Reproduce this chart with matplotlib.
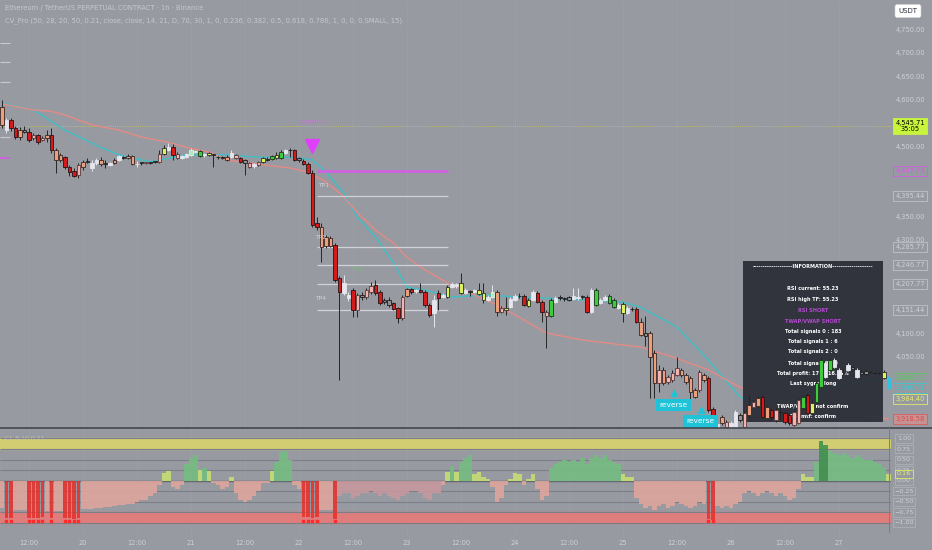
import numpy as np
from matplotlib import pyplot as plt
from matplotlib import transforms
from matplotlib.lines import Line2D
from matplotlib.patches import Rectangle

# ETHUSDT perp, 1h candles, first candle 19th 06:00.
opens = [
  4547, 4557, 4557, 4540, 4536, 4536, 4532, 4525, 4525, 4514,
  4519, 4525, 4493, 4483, 4478, 4457, 4449, 4440, 4457, 4468,
  4466, 4466, 4472, 4466, 4466, 4466, 4472, 4476, 4476, 4480,
  4463, 4466, 4466, 4466, 4468, 4468, 4485, 4493, 4499, 4485,
  4476, 4478, 4483, 4489, 4480, 4483, 4483, 4483, 4478, 4478,
  4478, 4478, 4483, 4476, 4472, 4466, 4459, 4461, 4468, 4472,
  4474, 4476, 4476, 4487, 4493, 4493, 4476, 4470, 4463, 4444,
  4337, 4328, 4307, 4305, 4290, 4219, 4187, 4177, 4194, 4151,
  4183, 4179, 4190, 4204, 4190, 4172, 4172, 4166, 4155, 4134,
  4181, 4196, 4194, 4194, 4190, 4162, 4145, 4187, 4179, 4179,
  4200, 4202, 4187, 4194, 4190, 4190, 4185, 4187, 4172, 4179,
  4190, 4147, 4151, 4157, 4172, 4181, 4181, 4160, 4172, 4187,
  4168, 4138, 4138, 4168, 4177, 4175, 4172, 4175, 4179, 4179,
  4179, 4147, 4162, 4166, 4172, 4181, 4172, 4155, 4164, 4145,
  4153, 4153, 4125, 4102, 4102, 4059, 3995, 4023, 3997, 4001,
  4012, 4023, 4012, 4006, 3965, 3980, 4012, 4006, 3939, 3895,
  3922, 3901, 3910, 3901, 3927, 3901, 3927, 3944, 3963, 3965,
  3944, 3937, 3916, 3933, 3931, 3927, 3905, 3910, 3942, 3969,
  3931, 3954, 3986, 4008, 4023, 4029, 4023, 4021, 4023, 4029,
  4008, 4018, 4021, 4018, 4016, 4016, 4006, 4006]
highs = [
  4600, 4562, 4562, 4544, 4542, 4544, 4540, 4529, 4527, 4523,
  4536, 4540, 4497, 4487, 4480, 4461, 4455, 4466, 4472, 4476,
  4472, 4476, 4478, 4472, 4468, 4476, 4483, 4480, 4485, 4483,
  4470, 4468, 4468, 4468, 4470, 4493, 4504, 4508, 4506, 4489,
  4483, 4487, 4497, 4493, 4493, 4487, 4489, 4485, 4480, 4480,
  4483, 4493, 4485, 4478, 4474, 4468, 4466, 4470, 4478, 4478,
  4483, 4489, 4493, 4495, 4497, 4495, 4478, 4474, 4468, 4451,
  4350, 4337, 4311, 4309, 4294, 4224, 4226, 4190, 4198, 4187,
  4190, 4198, 4211, 4215, 4194, 4177, 4179, 4168, 4157, 4183,
  4198, 4198, 4196, 4209, 4194, 4166, 4183, 4194, 4187, 4204,
  4211, 4209, 4230, 4198, 4194, 4196, 4209, 4209, 4183, 4204,
  4194, 4160, 4179, 4179, 4185, 4187, 4185, 4177, 4194, 4192,
  4172, 4151, 4177, 4181, 4183, 4179, 4181, 4198, 4198, 4183,
  4183, 4198, 4198, 4177, 4183, 4185, 4177, 4166, 4168, 4160,
  4157, 4157, 4134, 4138, 4106, 4066, 4033, 4029, 4012, 4023,
  4051, 4027, 4016, 4010, 3984, 4023, 4016, 4010, 3944, 3916,
  3927, 3916, 3914, 3937, 3931, 3935, 3969, 3959, 3967, 3969,
  3948, 3942, 3942, 3948, 3935, 3931, 3937, 3963, 3969, 3974,
  3959, 4001, 4051, 4042, 4048, 4048, 4027, 4025, 4038, 4031,
  4027, 4023, 4025, 4023, 4018, 4018, 4023, 4010]
lows = [
  4540, 4529, 4534, 4517, 4514, 4529, 4510, 4514, 4506, 4512,
  4510, 4487, 4444, 4468, 4453, 4438, 4436, 4434, 4451, 4466,
  4449, 4461, 4459, 4455, 4459, 4463, 4470, 4474, 4474, 4461,
  4457, 4461, 4463, 4463, 4466, 4466, 4483, 4491, 4472, 4474,
  4474, 4476, 4480, 4487, 4478, 4478, 4480, 4457, 4474, 4474,
  4470, 4476, 4474, 4466, 4440, 4455, 4455, 4459, 4466, 4470,
  4472, 4474, 4474, 4485, 4478, 4470, 4468, 4461, 4442, 4328,
  4322, 4254, 4284, 4286, 4211, 4001, 4183, 4170, 4136, 4136,
  4172, 4175, 4185, 4183, 4162, 4164, 4157, 4151, 4123, 4130,
  4179, 4185, 4187, 4187, 4157, 4136, 4115, 4151, 4177, 4177,
  4198, 4198, 4185, 4185, 4181, 4187, 4183, 4166, 4170, 4177,
  4138, 4145, 4140, 4155, 4170, 4177, 4160, 4157, 4170, 4166,
  4125, 4070, 4136, 4166, 4172, 4170, 4170, 4172, 4172, 4175,
  4145, 4145, 4160, 4164, 4170, 4164, 4155, 4153, 4125, 4143,
  4149, 4123, 4096, 4075, 3963, 3963, 3976, 3991, 3993, 3997,
  4010, 4008, 3993, 3948, 3963, 3976, 3997, 3933, 3893, 3891,
  3905, 3897, 3895, 3899, 3912, 3899, 3920, 3942, 3944, 3920,
  3918, 3916, 3912, 3916, 3908, 3905, 3903, 3908, 3937, 3927,
  3929, 3952, 3984, 4006, 4021, 4027, 4004, 4014, 4021, 4023,
  4006, 4012, 4010, 4016, 4014, 4014, 4004, 3982]
closes = [
  4585, 4536, 4540, 4521, 4521, 4532, 4514, 4519, 4510, 4519,
  4525, 4493, 4472, 4472, 4457, 4446, 4438, 4461, 4468, 4470,
  4455, 4472, 4463, 4463, 4461, 4472, 4480, 4478, 4480, 4463,
  4463, 4466, 4466, 4466, 4468, 4485, 4497, 4499, 4483, 4476,
  4480, 4485, 4493, 4491, 4491, 4485, 4487, 4483, 4478, 4476,
  4472, 4487, 4476, 4468, 4466, 4457, 4463, 4468, 4476, 4474,
  4480, 4483, 4489, 4493, 4493, 4472, 4472, 4463, 4444, 4333,
  4328, 4286, 4288, 4288, 4215, 4190, 4209, 4183, 4151, 4183,
  4179, 4194, 4202, 4187, 4166, 4168, 4162, 4153, 4134, 4179,
  4196, 4190, 4192, 4190, 4162, 4140, 4172, 4177, 4183, 4200,
  4207, 4207, 4209, 4187, 4190, 4194, 4194, 4172, 4179, 4190,
  4147, 4155, 4155, 4175, 4181, 4181, 4162, 4172, 4190, 4168,
  4147, 4147, 4172, 4177, 4179, 4175, 4179, 4181, 4177, 4181,
  4147, 4194, 4194, 4172, 4179, 4166, 4157, 4162, 4145, 4155,
  4153, 4125, 4098, 4096, 4051, 3995, 4023, 3995, 4008, 4016,
  4027, 4012, 3997, 3976, 3980, 4018, 4001, 3937, 3895, 3908,
  3910, 3912, 3899, 3933, 3916, 3931, 3948, 3954, 3946, 3922,
  3920, 3922, 3937, 3933, 3912, 3910, 3933, 3959, 3965, 3931,
  3952, 3995, 4044, 4038, 4044, 4044, 4006, 4018, 4033, 4025,
  4023, 4014, 4014, 4018, 4016, 4016, 4018, 3984.40]
# indicator candle colouring (one letter per candle)
candleKinds = ('swrrskrprp' 'srssrrrpsk' 'wwskwswkss' 'wkpkkpywrp' 'wwlwgwykkk'
               'swprkpwpyk' 'gygwkrkrrr' 'rsssrrwwrp' 'kpprrkkrrp' 'srwrrrwrwy'
               'wwywkwyywl' 'spywwkrywr' 'rpgwkkkwwk' 'rwgwwggwyw' 'krsksspspp'
               'psssspsrrw' 'spwwkpspsr' 'srpkrrppgr' 'yggwgwwkwk' 'wkkkkkyc')

# moving average lines (candle index, price)
cyanIdx = [0, 7, 14, 22, 26, 33, 41, 50, 57, 64, 69, 72, 76, 79, 83, 87, 90, 94,
           100, 107, 120, 131, 138, 142, 150, 157, 164, 168, 177, 186, 197]
cyanVals = [4594, 4579, 4536, 4499, 4483, 4468, 4483, 4483, 4478, 4478, 4472, 4446,
            4401, 4350, 4307, 4252, 4200, 4194, 4179, 4183, 4177, 4172, 4168, 4157,
            4115, 4044, 3965, 3954, 3959, 3991, 4006]
salmonIdx = [0, 7, 11, 14, 20, 26, 31, 37, 41, 46, 50, 57, 64, 68, 72, 76, 79, 83,
             87, 90, 94, 99, 110, 114, 121, 129, 142, 149, 157, 164, 177, 197]
salmonVals = [4592, 4579, 4576, 4568, 4547, 4536, 4521, 4510, 4499, 4489, 4472, 4463,
              4455, 4446, 4425, 4393, 4359, 4322, 4294, 4264, 4237, 4209, 4162, 4141,
              4102, 4087, 4072, 4051, 4023, 3986, 3948, 3918]

# take-profit levels of the short signal
shortLevel = 4447.78
tpLevels = [4395.44, 4285.77, 4246.77, 4207.77, 4151.44]
markLevel = 4545.71
leftLevels = [4722, 4682, 4639, 4521]
leftMagenta = 4476

# lower pane oscillator
histVals = [
  -0.65, -0.88, -0.88, -0.7, -0.7, -0.7, -0.88, -0.88, -0.88, -0.86,
  -0.72, -0.88, -0.72, -0.72, -0.88, -0.88, -0.9, -0.88, -0.68, -0.66,
  -0.66, -0.65, -0.64, -0.63, -0.62, -0.6, -0.58, -0.57, -0.55, -0.55,
  -0.5, -0.45, -0.45, -0.35, -0.3, -0.1, 0.18, 0.22, -0.15, -0.2,
  -0.1, 0.4, 0.55, 0.6, 0.25, 0.3, 0.22, -0.05, -0.1, -0.2,
  -0.15, 0.08, -0.3, -0.45, -0.5, -0.45, -0.35, -0.25, -0.05, -0.05,
  0.22, 0.45, 0.68, 0.7, 0.5, -0.1, -0.2, -0.86, -0.86, -0.88,
  -0.86, -0.7, -0.7, -0.7, -0.9, -0.35, -0.3, -0.3, -0.4, -0.35,
  -0.3, -0.3, -0.25, -0.3, -0.35, -0.3, -0.35, -0.4, -0.45, -0.35,
  -0.3, -0.25, -0.25, -0.3, -0.4, -0.45, -0.3, -0.3, -0.1, 0.2,
  0.35, 0.2, 0.45, 0.55, 0.6, 0.15, 0.2, 0.1, 0.05, -0.15,
  -0.5, -0.4, -0.1, 0.05, 0.18, 0.15, -0.1, 0.05, 0.15, -0.2,
  -0.45, -0.35, 0.3, 0.4, 0.45, 0.5, 0.45, 0.5, 0.45, 0.55,
  0.4, 0.55, 0.6, 0.55, 0.6, 0.5, 0.45, 0.4, 0.15, 0.1,
  0.1, -0.4, -0.55, -0.65, -0.6, -0.7, -0.6, -0.55, -0.65, -0.6,
  -0.5, -0.55, -0.6, -0.65, -0.6, -0.5, -0.55, -0.9, -0.92, -0.6,
  -0.65, -0.6, -0.65, -0.55, -0.5, -0.3, -0.25, -0.3, -0.35, -0.3,
  -0.25, -0.3, -0.35, -0.3, -0.35, -0.45, -0.4, -0.2, 0.15, 0.1,
  0.08, 0.45, 0.95, 0.85, 0.7, 0.65, 0.6, 0.65, 0.6, 0.55,
  0.6, 0.55, 0.5, 0.5, 0.45, 0.4, 0.3, 0.16]
histKinds = ('SRRSSSRRRR' 'SRSSRRRRSS' 'SSSSSSSSSS' 'SSSSSSYYSS' 'SGGGYGYSSS'
             'SYSSSSSSSS' 'YGGGGSSRRR' 'RSSSRDDDDD' 'DDDDDDDDDD' 'DDDDDDDDSY'
             'GYGGGYYYYS' 'SSSYYYSYYS' 'SSGGGGGGGG' 'GGGGGGGGYY' 'YSSSSSSSSS'
             'SSSSSSSRRS' 'SSSSSSSSSS' 'SSSSSSSSYY' 'YGHHGGGGGG' 'GGGGGGGY')
oscLevels = [1.0, 0.75, 0.5, 0.25, 0.0, -0.25, -0.5, -0.75, -1.0]

tickCandles = [6, 18, 30, 42, 54, 66, 78, 90, 102, 114, 126, 138, 150, 162, 174, 186]
tickLabels = ['12:00', '20', '12:00', '21', '12:00', '22', '12:00', '23',
              '12:00', '24', '12:00', '25', '12:00', '26', '12:00', '27']
# price scale labels left uncovered by the tags
priceTicks = [4050, 4100, 4300, 4350, 4500, 4600, 4650, 4700, 4750]

infoLines = [
  ('-------------------INFORMATION-------------------', 'white'),
  ('RSI current: 55.23', 'white'),
  ('RSI high TF: 55.23', 'white'),
  ('RSI SHORT', '#b648d2'),
  ('TWAP/VWAP SHORT', '#b648d2'),
  ('Total signals 0 : 183', 'white'),
  ('Total signals 1 : 6', 'white'),
  ('Total signals 2 : 0', 'white'),
  ('Total signals 3 : 0', 'white'),
  ('Total profit: 175 : 16.19%', 'white'),
  ('Last sygnal long', 'white'),
  ('TWAP/VWAP: not confirm', 'white'),
  ('RSI mtf: confirm', 'white'),
]
infoRows = [267, 288, 299, 310, 321, 331, 342, 352, 363, 373, 384, 406, 416]

bg = '#979aa1'
textGrey = '#cfd1d6'
faceCol = {'r': '#d41a1a', 's': '#e9a07c', 'p': '#f2b4b2', 'w': '#e6e6ee',
           'y': '#d9f25e', 'g': '#3fca40', 'l': '#b0eabc', 'k': '#8c8f96', 'c': '#2fc4e4'}
edgeCol = {'r': '#2a1212', 's': '#3a2626', 'p': '#5a3a3a', 'w': '#e6e6ee',
           'y': '#2c2c2c', 'g': '#1a3a1a', 'l': '#e0f2e4', 'k': '#1c1c1c', 'c': '#2fc4e4'}
histCol = {'R': '#e5322d', 'S': '#e0a69c', 'D': '#c8989d', 'G': '#74bd80',
           'Y': '#c8e072', 'H': '#3f914c'}

W, H = 932, 550
fig = plt.figure(figsize=(W / 100, H / 100), dpi=100)
fig.patch.set_facecolor(bg)
ax = fig.add_axes([0, 122 / H, 891 / W, 428 / H])
ax2 = fig.add_axes([0, 14 / H, 891 / W, 108 / H])
for a in (ax, ax2):
  a.set_facecolor(bg)
  for s in a.spines.values():
    s.set_visible(False)
  a.set_xlim(-0.44, 197.56)
  a.set_yticks([])
ax.set_xticks([])
ax.set_ylim(3899, 4814.1)
ax2.set_ylim(-1.308, 1.2485)

idx = np.arange(len(closes))
o = np.array(opens, dtype=float)
c = np.array(closes, dtype=float)

# faint grid
ax.vlines(tickCandles, 3899, 4814, colors='#a2a5ac', lw=0.5, alpha=0.5, zorder=0)
ax2.vlines(tickCandles, -1.3, 1.25, colors='#a2a5ac', lw=0.5, alpha=0.5, zorder=0)

# moving averages, levels
ax.plot(cyanIdx, cyanVals, color='#3fbfc6', lw=1.0, zorder=2)
ax.plot(salmonIdx, salmonVals, color='#e58a86', lw=1.0, zorder=2)
ax.axhline(markLevel, color='#c6c86a', lw=0.6, ls=(0, (1, 1.5)), zorder=1.5)
ax.hlines(tpLevels, 70, 99.1, colors='#d0d2d7', lw=0.9, zorder=2.5)
ax.hlines(shortLevel, 70, 99.1, colors='#d65ce6', lw=1.8, zorder=2.5)
ax.hlines(leftLevels, -0.44, 1.8, colors='#c8cad0', lw=0.8, zorder=2.5)
ax.hlines(leftMagenta, -0.44, 1.8, colors='#d65ce6', lw=1.2, zorder=2.5)

# information panel (under the candles)
ax.add_patch(Rectangle((743 / 891, 6 / 428), 140 / 891, 161 / 428, transform=ax.transAxes,
                       fc='#2c2f38', ec='none', alpha=0.95, zorder=3))
for (txt, col), row in zip(infoLines, infoRows):
  ax.text(813 / 891, (428 - row) / 428, txt, transform=ax.transAxes, ha='center',
          va='center', fontsize=3.6, color=col, fontweight='bold', zorder=3.5)

# candles
faces = [faceCol[k] for k in candleKinds]
edges = [edgeCol[k] for k in candleKinds]
wickCols = ['#e6e6ee' if k in 'wl' else ('#2fc4e4' if k == 'c' else '#262626') for k in candleKinds]
ax.vlines(idx, lows, highs, colors=wickCols, lw=0.7, zorder=3.9)
ax.bar(idx, np.maximum(np.abs(c - o), 1.0), bottom=np.minimum(o, c), width=0.72,
       color=faces, edgecolor=edges, linewidth=0.6, zorder=4)

# signal marks
ax.plot(69, 4502, marker='v', ms=10, color='#e040fb', zorder=5)
ax.text(69, 4553, 'SHORT 4', ha='center', va='center', fontsize=4.3, color='#d070e0', zorder=5)
ax.text(70.2, 4417, 'TP1', ha='left', va='center', fontsize=4.3, color='#cfd1d6', zorder=5)
ax.text(69.5, 4306, 'TP2', ha='left', va='center', fontsize=4.3, color='#cfd1d6', zorder=5)
ax.text(77.5, 4237, 'TP3', ha='left', va='center', fontsize=4.3, color='#5fcf5f', zorder=5)
ax.text(69.5, 4175, 'TP4', ha='left', va='center', fontsize=4.3, color='#cfd1d6', zorder=5)
for xi, yp, yt in [(149.3, 3948, 3974), (155.3, 3913, 3938)]:
  ax.plot(xi, yt, marker='^', ms=4.5, color='#1fc3d8', zorder=6, clip_on=True)
  ax.text(xi, yp, 'reverse', ha='center', va='center', fontsize=5.4, color='white',
          bbox=dict(boxstyle='square,pad=0.45', fc='#1fc3d8', ec='none'), zorder=6, clip_on=True)

# price scale
tr = transforms.blended_transform_factory(fig.transFigure, ax.transData)
axX = 910 / W
for p in priceTicks:
  ax.text(axX, p, f'{p:,.2f}', transform=tr, ha='center', va='center', fontsize=4.8,
          color=textGrey, zorder=8)
tags = [
  (markLevel, '4,545.71\n35:05', '#c8f43c', '#c8f43c', 'black'),
  (shortLevel, '4,447.78', '#d65ce6', bg, '#d65ce6'),
  (tpLevels[0], '4,395.44', '#c0c2c8', bg, textGrey),
  (tpLevels[1], '4,285.77', '#c0c2c8', bg, textGrey),
  (tpLevels[2], '4,246.77', '#c0c2c8', bg, textGrey),
  (tpLevels[3], '4,207.77', '#c0c2c8', bg, textGrey),
  (tpLevels[4], '4,151.44', '#c0c2c8', bg, textGrey),
  (4006, '4,008.23', '#5cc85c', bg, '#5cc85c'),
  (3985, '3,996.71', '#3fc6d0', bg, '#3fc6d0'),
  (3961, '3,984.40', '#e2e86a', bg, '#e8ee70'),
  (3918, '3,918.58', '#e05a5a', '#c49494', '#e04848'),
]
for p, txt, ec, fc, tc in tags:
  ax.text(axX, p, txt, transform=tr, ha='center', va='center', fontsize=4.8, color=tc,
          linespacing=1.0, zorder=10,
          bbox=dict(boxstyle='square,pad=0.3', fc=fc, ec=ec, lw=0.6))

# lower pane
ax2.axhspan(0.75, 1.0, color='#d2cc72', zorder=0.5)
ax2.axhspan(-1.0, -0.75, color='#df7c7c', zorder=0.5)
ax2.hlines(oscLevels, -0.44, 197.56, colors='#7c7f87', lw=0.8, zorder=0.8)
ax2.axhline(0, color='#66696f', lw=1.0, zorder=0.9)
barWidths = [0.72 if k == 'R' else 0.96 for k in histKinds]
ax2.bar(idx, histVals, width=barWidths, color=[histCol[k] for k in histKinds], alpha=0.88,
        linewidth=0, zorder=2)
redIdx = [i for i, k in enumerate(histKinds) if k == 'R']
ax2.scatter(redIdx, [-0.95] * len(redIdx), s=2, marker='s', color='#ff2a2a', zorder=3)
ax2.set_xticks(tickCandles)
ax2.set_xticklabels(tickLabels)
ax2.tick_params(axis='x', length=0, pad=3, labelsize=4.8, labelcolor=textGrey)
tr2 = transforms.blended_transform_factory(fig.transFigure, ax2.transData)
for v in oscLevels:
  ax2.text(904 / W, v, f'{v:.2f}'.replace('-', '\u2212'), transform=tr2, ha='center',
           va='center', fontsize=4.6, color=textGrey, zorder=8,
           bbox=dict(boxstyle='square,pad=0.25', fc=bg, ec='#b3b5bb', lw=0.5))
ax2.text(904 / W, histVals[-1], f'{histVals[-1]:.2f}', transform=tr2, ha='center',
         va='center', fontsize=4.6, color='#e2f070', zorder=9,
         bbox=dict(boxstyle='square,pad=0.25', fc=bg, ec='#d8ee62', lw=0.6))
ax2.text(0.006, 0.9, 'CI  8 10 0.21', transform=ax2.transAxes, fontsize=4.5,
         color='#b6b8be', ha='left', va='center')

# pane separators
fig.add_artist(Line2D([0, 1], [122 / H, 122 / H], transform=fig.transFigure,
                      color='#44474e', lw=1.2))
fig.add_artist(Line2D([889 / W, 889 / W], [18 / H, 122 / H], transform=fig.transFigure,
                      color='#7c7f87', lw=0.7))

# header
fig.text(5 / W, 1 - 8 / H, 'Ethereum / TetherUS PERPETUAL CONTRACT \u00b7 1h \u00b7 Binance',
         fontsize=4.9, color='#c6c8ce', ha='left', va='center')
fig.text(5 / W, 1 - 21 / H,
         'CV_Pro (50, 28, 20, 50, 0.21, close, close, 14, 21, D, 70, 30, 1, 0, 0.236, '
         '0.382, 0.5, 0.618, 0.786, 1, 0, 0, 0.SMALL, 15)',
         fontsize=4.9, color='#c6c8ce', ha='left', va='center')
fig.text(908 / W, 1 - 11 / H, 'USDT', ha='center', va='center', fontsize=5, color='#2a2e39',
         bbox=dict(boxstyle='round,pad=0.5,rounding_size=0.3', fc='white', ec='#d8d8d8', lw=0.4))

fig.savefig('out.png', dpi=100, facecolor=bg)
